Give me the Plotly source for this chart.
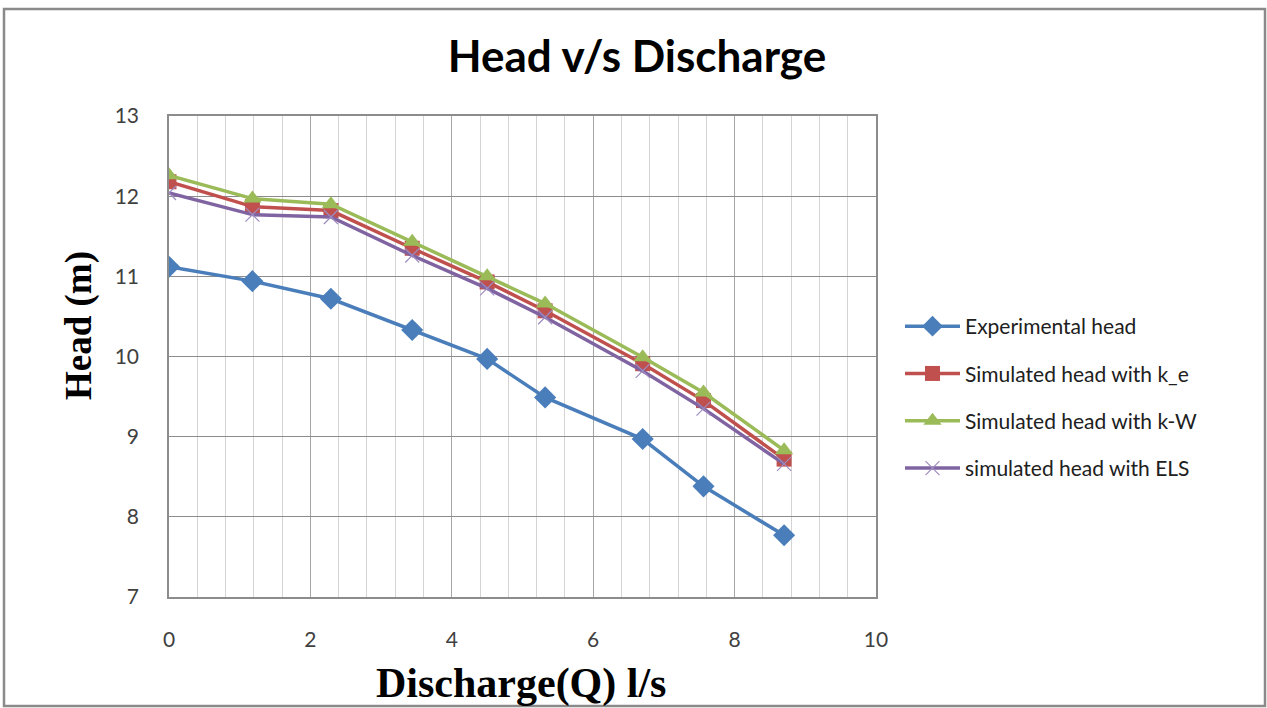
import plotly.graph_objects as go

# Discharge (l/s) at each measured operating point
discharge = [0.0, 1.18, 2.29, 3.44, 4.50, 5.32, 6.70, 7.56, 8.70]

# Head (m) for the experiment and the three turbulence-model simulations
head_experimental = [11.12, 10.94, 10.72, 10.33, 9.97, 9.49, 8.97, 8.38, 7.77]
head_k_e = [12.18, 11.87, 11.82, 11.35, 10.93, 10.57, 9.91, 9.45, 8.72]
head_k_w = [12.26, 11.97, 11.90, 11.43, 11.00, 10.66, 9.99, 9.55, 8.83]
head_els = [12.04, 11.77, 11.74, 11.26, 10.85, 10.49, 9.82, 9.35, 8.66]

series_names = [
    "Experimental head",
    "Simulated head with k_e",
    "Simulated head with k-W",
    "simulated head with ELS",
]

W, H = 1267, 708
ML, MR, MT, MB = 169, 391, 116, 111

fig = go.Figure()

styles = [
    (head_experimental, "#4A7EBB", dict(symbol="diamond", size=17)),
    (head_k_e, "#C0504D", dict(symbol="square", size=15)),
    (head_k_w, "#9BBB59", dict(symbol="triangle-up", size=16)),
    (head_els, "#8064A2", dict(symbol="x-thin", size=14, line=dict(width=1.2, color="#9E8CC0"))),
]

for i, (name, (vals, color, marker)) in enumerate(zip(series_names, styles)):
    m = dict(color=color, **marker)
    fig.add_trace(go.Scatter(
        x=discharge, y=vals, name=name, mode="lines+markers",
        line=dict(color=color, width=3.5),
        marker=m, legendgroup=f"g{i}",
    ))

grid_major = "#8C8C8C"
grid_minor = "#D4D4D4"
tick_font = dict(family="Lato, Carlito, sans-serif", size=21, color="#404040")
serif_bold = "Liberation Serif, Times New Roman, serif"

fig.update_xaxes(
    range=[0, 10], dtick=2, tick0=0,
    showgrid=True, gridcolor="#A6A6A6", gridwidth=1.2,
    minor=dict(dtick=0.4, tick0=0, showgrid=True, gridcolor=grid_minor, gridwidth=1),
    showline=True, linecolor=grid_major, linewidth=1.5, mirror=True,
    zeroline=False, ticks="", ticklabelstandoff=23,
    tickfont=tick_font,
)
fig.update_yaxes(
    range=[7, 13], dtick=1,
    showgrid=True, gridcolor=grid_major, gridwidth=1,
    showline=True, linecolor=grid_major, linewidth=1.5, mirror=True,
    zeroline=False, ticks="", ticklabelstandoff=24,
    tickfont=tick_font,
)

pw = W - ML - MR
ph = H - MT - MB

# Axis titles
fig.add_annotation(
    text="<b>Discharge(Q) l/s</b>", xref="paper", yref="paper",
    x=(521 - ML) / pw, y=-(683 - MT - ph) / ph, xanchor="center", yanchor="middle",
    showarrow=False, font=dict(family=serif_bold, size=42, color="#000000"),
)
fig.add_annotation(
    text="<b>Head (m)</b>", xref="paper", yref="paper",
    x=(79 - ML) / pw, y=(H - MB - 326) / ph, xanchor="center", yanchor="middle",
    textangle=-90, showarrow=False,
    font=dict(family=serif_bold, size=37, color="#000000"),
)

# Outer chart frame
fig.add_shape(
    type="rect", xref="paper", yref="paper",
    x0=(4 - ML) / pw, x1=(1265 - ML) / pw,
    y0=-(706 - MT - ph) / ph, y1=(H - MT - 4) / ph,
    line=dict(color="#8A8A8A", width=2.5), fillcolor="rgba(0,0,0,0)", layer="below",
)

fig.update_layout(
    width=W, height=H,
    margin=dict(l=ML, r=MR, t=MT, b=MB),
    paper_bgcolor="white", plot_bgcolor="white",
    title=dict(text="<b>Head v/s Discharge</b>", x=637 / W, xanchor="center",
               y=1 - 57 / H, yanchor="middle",
               font=dict(family="Lato, Carlito, sans-serif", size=44, color="#000000")),
    legend=dict(
        x=900 / W, xref="container", y=1 - 306 / H, yref="container",
        xanchor="left", yanchor="top",
        font=dict(family="Lato, Carlito, sans-serif", size=21, color="#202020"),
        itemwidth=55, tracegroupgap=17, bgcolor="rgba(0,0,0,0)",
    ),
    showlegend=True,
)

fig.write_html("out.html")
